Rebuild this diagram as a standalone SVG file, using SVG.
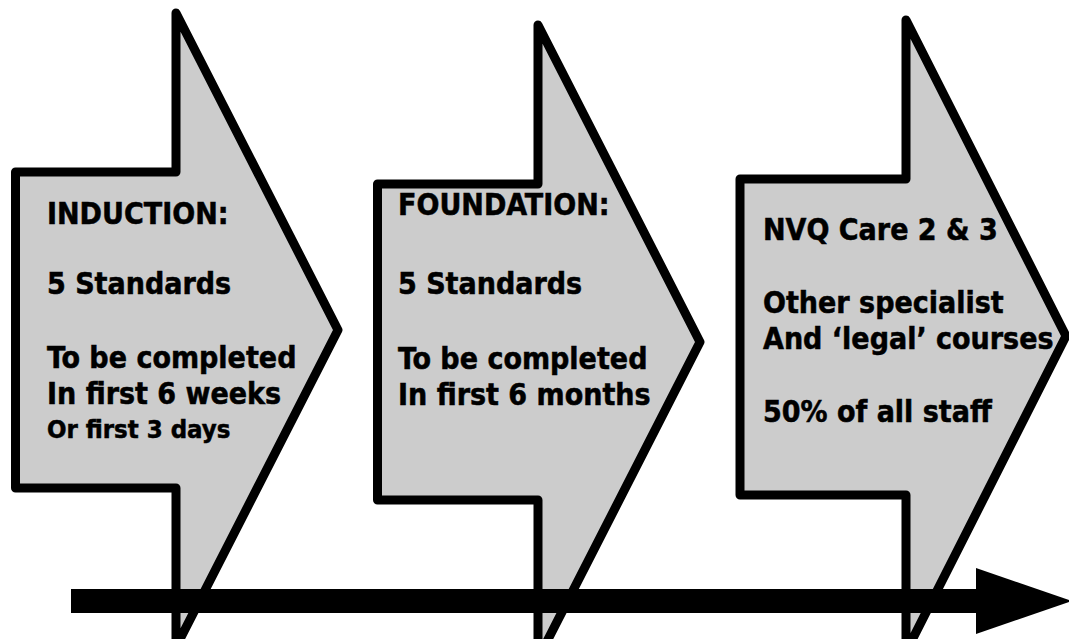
<svg xmlns="http://www.w3.org/2000/svg" width="1069" height="639" viewBox="0 0 1069 639">
<style>
.stage{fill:#cccccc;stroke:#000;stroke-width:9;stroke-linejoin:round}
text{font-family:'DejaVu Sans Condensed','DejaVu Sans',sans-serif;font-stretch:condensed;font-weight:bold;font-size:30px;fill:#000;stroke:#000;stroke-width:0.5}
.small{font-size:25.5px}
</style>
<rect width="1069" height="639" fill="#fff"/>
<g id="induction">
<path class="stage" d="M15.5 172 H176 V13 L338 330 L176 647 V488 H15.5 Z"/>
<text x="47" y="224">INDUCTION:</text>
<text x="47" y="294">5 Standards</text>
<text x="47" y="368">To be completed</text>
<text x="47" y="404">In first 6 weeks</text>
<text class="small" x="47" y="438">Or first 3 days</text>
</g>
<g id="foundation">
<path class="stage" d="M377.5 184 H538 V25 L700 342 L538 659 V500 H377.5 Z"/>
<text x="398" y="215">FOUNDATION:</text>
<text x="398" y="294">5 Standards</text>
<text x="398" y="369">To be completed</text>
<text x="398" y="405">In first 6 months</text>
</g>
<g id="nvq">
<path class="stage" d="M740 179 H906 V20 L1066 336 L906 652 V495 H740 Z"/>
<text x="763" y="240">NVQ Care 2 &amp; 3</text>
<text x="763" y="313">Other specialist</text>
<text x="763" y="349">And &#8216;legal&#8217; courses</text>
<text x="763" y="422">50% of all staff</text>
</g>
<g id="connectors">
<rect x="71" y="589" width="906" height="24" fill="#000"/>
<polygon points="976,568 1072,601 976,634" fill="#000"/>
</g>
</svg>
